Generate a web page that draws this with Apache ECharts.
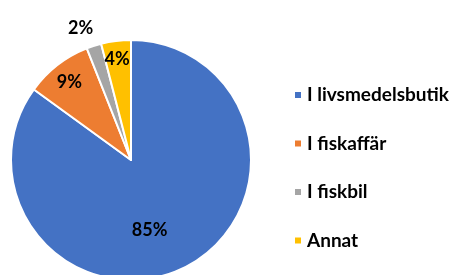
<!DOCTYPE html>
<html>
<head>
<meta charset="utf-8">
<script src="https://cdn.jsdelivr.net/npm/echarts@6/dist/echarts.min.js"></script>
<style>
  html, body { margin: 0; padding: 0; background: #fff; }
  #chart { width: 454px; height: 275px; }
</style>
</head>
<body>
<div id="chart"></div>
<script>
const categories = ['I livsmedelsbutik', 'I fiskaffär', 'I fiskbil', 'Annat'];
const shares = [85, 9, 2, 4];
const colors = ['#4472C4', '#ED7D31', '#A5A5A5', '#FFC000'];
// label nudges away from the default inside position
const labelShift = [[-10, 14], [-23, -28], [-31, -72], [-6, -38]];

const font = 'Lato';
const chart = echarts.init(document.getElementById('chart'));

chart.setOption({
    animation: false,
    legend: {
        orient: 'vertical',
        left: 293,
        top: 85,
        padding: 0,
        icon: 'rect',
        itemWidth: 8,
        itemHeight: 8,
        itemGap: 28.5,
        textStyle: { fontFamily: font, fontWeight: 'bold', fontSize: 19, lineHeight: 20, color: '#000' },
        data: categories
    },
    series: [{
        type: 'pie',
        center: [131, 160],
        radius: 120,
        startAngle: 90,
        clockwise: true,
        data: categories.map((name, i) => ({
            name: name,
            value: shares[i],
            itemStyle: { color: colors[i] }
        })),
        itemStyle: { borderColor: '#fff', borderWidth: 2 },
        label: {
            show: true,
            position: 'inside',
            formatter: p => p.value + '%',
            fontFamily: font,
            fontWeight: 'bold',
            fontSize: 18,
            color: '#000'
        },
        labelLine: { show: false },
        labelLayout: p => ({ dx: labelShift[p.dataIndex][0], dy: labelShift[p.dataIndex][1] }),
        emphasis: { disabled: true }
    }]
});
</script>
</body>
</html>
